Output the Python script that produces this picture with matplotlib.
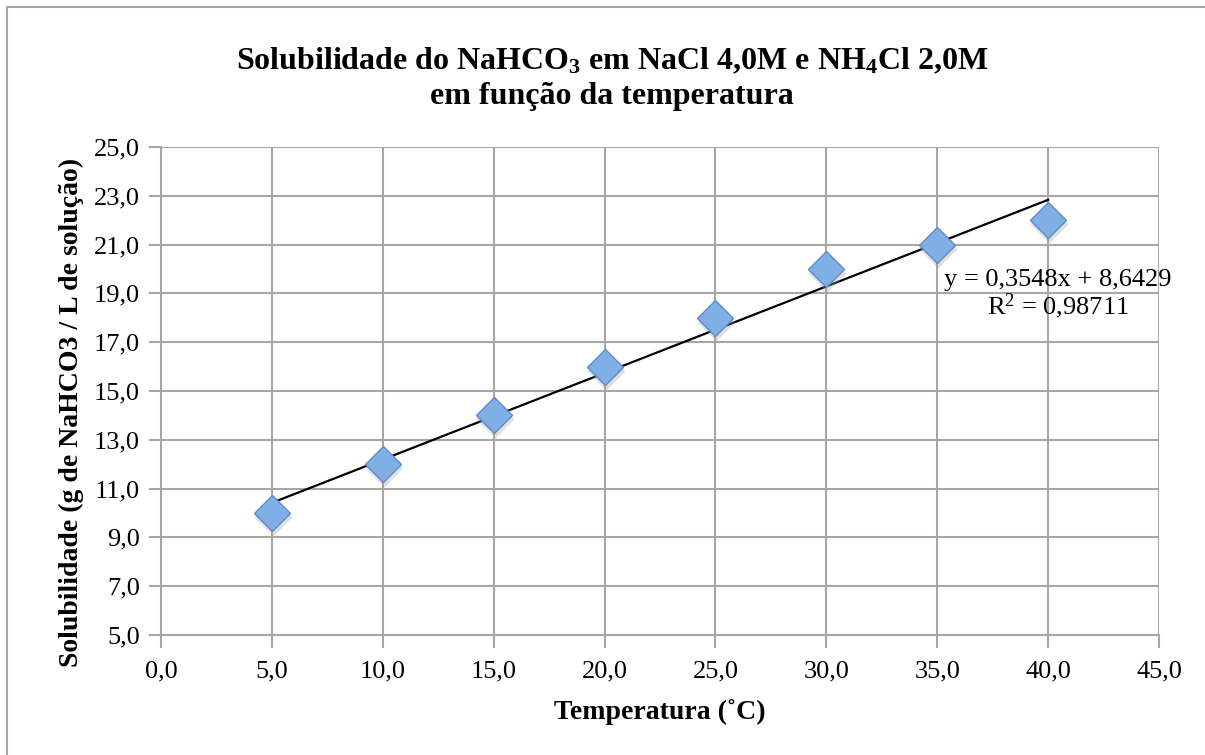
import matplotlib.pyplot as plt
import matplotlib.transforms as mtransforms
from matplotlib.ticker import FuncFormatter
from matplotlib.patches import Rectangle

plt.rcParams['font.family'] = ['Liberation Serif', 'DejaVu Serif']
plt.rcParams['mathtext.default'] = 'regular'

# temperatura (C) e solubilidade (g NaHCO3 / L)
temperatura = [5, 10, 15, 20, 25, 30, 35, 40]
solubilidade = [10, 12, 14, 16, 18, 20, 21, 22]
x_ticks = [0, 5, 10, 15, 20, 25, 30, 35, 40, 45]
y_ticks = [5, 7, 9, 11, 13, 15, 17, 19, 21, 23, 25]
coef_a = 0.3548
coef_b = 8.6429
r2 = 0.98711

fig = plt.figure(figsize=(12.05, 7.55), dpi=100)
ax = fig.add_axes([161 / 1205, 1 - 635 / 755, (1159 - 161) / 1205, (635 - 147) / 755])

# moldura externa do grafico
fig.patches.append(Rectangle((7 / 1205, -0.05), 1.1, 1 - 7 / 755 + 0.05,
                             transform=fig.transFigure, fill=False,
                             edgecolor='#a6a6a6', linewidth=1.5))

ax.set_xlim(x_ticks[0], x_ticks[-1])
ax.set_ylim(y_ticks[0], y_ticks[-1])
ax.set_xticks(x_ticks)
ax.set_yticks(y_ticks)
fmt = FuncFormatter(lambda v, p: f"{v:.1f}".replace('.', ','))
ax.xaxis.set_major_formatter(fmt)
ax.yaxis.set_major_formatter(fmt)
ax.grid(True, color='#a6a6a6', linewidth=1.5)
ax.set_axisbelow(True)
for s in ['top', 'right']:
    ax.spines[s].set_visible(False)
for s in ['left', 'bottom']:
    ax.spines[s].set_color('#a6a6a6')
    ax.spines[s].set_linewidth(1.5)
ax.tick_params(direction='out', length=9, width=1.5, color='#a6a6a6',
               labelsize=19)
ax.tick_params(axis='y', pad=6)
ax.tick_params(axis='x', pad=9)

# linha de tendencia
xs = [temperatura[0], temperatura[-1]]
ax.plot(xs, [coef_a * x + coef_b for x in xs], color='black', linewidth=1.6, zorder=3)

# sombra dos marcadores
sombra = mtransforms.offset_copy(ax.transData, fig=fig, x=1, y=-4, units='dots')
ax.plot(temperatura, solubilidade, 'D', ms=19, color='#9a9a9a', alpha=0.3,
        mec='none', transform=sombra, zorder=4)
ax.plot(temperatura, solubilidade, 'D', ms=18, mfc='#80afe6', mec='#5a8ccc',
        mew=1.0, linestyle='none', zorder=5)

ax.text(0.899, 0.727, f"y = {coef_a:.4f}x + {coef_b:.4f}".replace('.', ','),
        transform=ax.transAxes, ha='center', va='center', fontsize=19, zorder=6)
ax.text(0.899, 0.674, f"R$^{{2}}$ = {r2:.5f}".replace('.', ','),
        transform=ax.transAxes, ha='center', va='center', fontsize=19, zorder=6)

fig.text(0.508, 0.896,
         "Solubilidade do NaHCO$_3$ em NaCl 4,0M e NH$_4$Cl 2,0M\nem função da temperatura",
         ha='center', va='center', fontsize=23, fontweight='bold', linespacing=1.25)
ax.set_xlabel("Temperatura (˚C)", fontsize=20, fontweight='bold', labelpad=12)
ax.set_ylabel("Solubilidade (g de NaHCO3 / L de solução)", fontsize=20,
              fontweight='bold')
ax.yaxis.set_label_coords(-0.077, 0.457)

fig.savefig('out.png', dpi=100)
